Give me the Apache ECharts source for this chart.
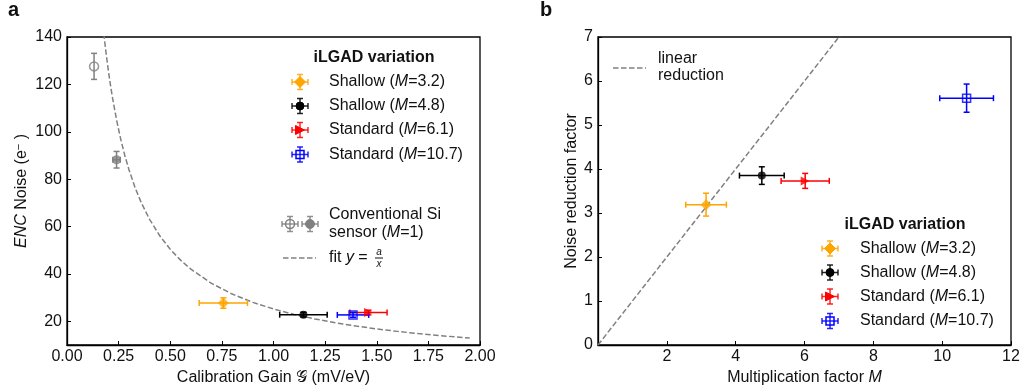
<!DOCTYPE html>
<html>
<head>
<meta charset="utf-8">
<script src="https://cdn.jsdelivr.net/npm/echarts@6.0.0/dist/echarts.min.js"></script>
<style>
  html, body { margin: 0; padding: 0; background: #fff; }
  #chart { width: 1023px; height: 391px; }
</style>
</head>
<body>
<div id="chart"></div>
<script>
// iLGAD variants (shared by both panels)
const variantNames = ['Shallow', 'Shallow', 'Standard', 'Standard'];
const variantM = ['3.2', '4.8', '6.1', '10.7'];
const variantColors = ['#ffa500', '#000000', '#ff0000', '#0000ff'];
const variantSymbols = ['diamond', 'circle', 'triangle', 'rect'];
const variantFilled = [true, true, true, false];
const variantSizes = [11, 8, 9, 8];

// panel a: noise vs calibration gain
const gain = [0.757, 1.145, 1.46, 1.385];
const gainErr = [0.117, 0.115, 0.09, 0.076];
const noise = [27.7, 22.8, 23.7, 22.7];
const noiseErr = [2.2, 1.0, 1.0, 1.0];
// conventional Si sensor (open / filled)
const convGain = [0.131, 0.240];
const convGainErr = [0, 0.018];
const convNoise = [127.6, 88.2];
const convNoiseErr = [5.5, 3.5];
// fit y = a/x
const fitA = 25.2;
const fitX = [0.17, 0.175, 0.18, 0.19, 0.2, 0.21, 0.22, 0.24, 0.26, 0.28, 0.3, 0.33, 0.36, 0.4, 0.45, 0.5,
  0.55, 0.6, 0.7, 0.8, 0.9, 1.0, 1.1, 1.2, 1.3, 1.4, 1.5, 1.6, 1.7, 1.8, 1.95];

// panel b: noise reduction vs multiplication factor
const multM = [3.14, 4.76, 6.02, 10.71];
const multMErr = [0.59, 0.65, 0.70, 0.78];
const reduction = [3.19, 3.85, 3.73, 5.61];
const reductionErr = [0.26, 0.20, 0.17, 0.32];
const linearX = [0, 12];

// tick labels
const gainTicks = [0, 0.25, 0.5, 0.75, 1.0, 1.25, 1.5, 1.75, 2.0];
const noiseTicks = [20, 40, 60, 80, 100, 120, 140];
const mTicks = [2, 4, 6, 8, 10, 12];
const reductionTicks = [0, 1, 2, 3, 4, 5, 6, 7];

const FONT = 'Liberation Sans, Arial, sans-serif';
const FS = 16;
const TXT = '#111';
const GRAY = '#808080';

function seg(x1, y1, x2, y2, color, w) {
  return { type: 'line', shape: { x1: x1, y1: y1, x2: x2, y2: y2 }, style: { stroke: color, lineWidth: w || 1.5 } };
}

// error bars drawn through the axes
function errorBars(color) {
  return function (params, api) {
    const x = api.value(0), y = api.value(1), xe = api.value(2), ye = api.value(3);
    const c = 3;
    const kids = [];
    if (xe > 0) {
      const l = api.coord([x - xe, y]), r = api.coord([x + xe, y]);
      kids.push(seg(l[0], l[1], r[0], r[1], color));
      kids.push(seg(l[0], l[1] - c, l[0], l[1] + c, color));
      kids.push(seg(r[0], r[1] - c, r[0], r[1] + c, color));
    }
    if (ye > 0) {
      const t = api.coord([x, y + ye]), b = api.coord([x, y - ye]);
      kids.push(seg(t[0], t[1], b[0], b[1], color));
      kids.push(seg(t[0] - c, t[1], t[0] + c, t[1], color));
      kids.push(seg(b[0] - c, b[1], b[0] + c, b[1], color));
    }
    return { type: 'group', children: kids, style: { opacity: 0.85 } };
  };
}

function markerSeries(idx, data, color, symbol, size, filled) {
  return {
    type: 'scatter',
    xAxisIndex: idx, yAxisIndex: idx,
    data: data,
    symbol: symbol,
    symbolSize: size,
    symbolRotate: symbol === 'triangle' ? -90 : 0,
    itemStyle: filled
      ? { color: color }
      : { color: 'rgba(0,0,0,0)', borderColor: color, borderWidth: 1.5 },
    z: 5
  };
}

function errSeries(idx, data, color) {
  return {
    type: 'custom',
    xAxisIndex: idx, yAxisIndex: idx,
    renderItem: errorBars(color),
    encode: { x: 0, y: 1 },
    data: data,
    z: 4
  };
}

const series = [];
// fit line
series.push({
  type: 'line', xAxisIndex: 0, yAxisIndex: 0, showSymbol: false,
  data: fitX.map(function (x) { return [x, fitA / x]; }),
  lineStyle: { color: GRAY, width: 1.5, type: [5.5, 2.5] }, z: 2
});
// linear reduction line
series.push({
  type: 'line', xAxisIndex: 1, yAxisIndex: 1, showSymbol: false,
  data: linearX.map(function (x) { return [x, x]; }),
  lineStyle: { color: GRAY, width: 1.5, type: [5.5, 2.5] }, z: 2
});
// conventional sensor points
for (let i = 0; i < convGain.length; i++) {
  series.push(errSeries(0, [[convGain[i], convNoise[i], convGainErr[i], convNoiseErr[i]]], GRAY));
  series.push(markerSeries(0, [[convGain[i], convNoise[i]]], GRAY, 'circle', 9, i === 1));
}
// iLGAD points in both panels
for (let i = 0; i < variantNames.length; i++) {
  const col = variantColors[i];
  series.push(errSeries(0, [[gain[i], noise[i], gainErr[i], noiseErr[i]]], col));
  series.push(markerSeries(0, [[gain[i], noise[i]]], col, variantSymbols[i], variantSizes[i], variantFilled[i]));
  series.push(errSeries(1, [[multM[i], reduction[i], multMErr[i], reductionErr[i]]], col));
  series.push(markerSeries(1, [[multM[i], reduction[i]]], col, variantSymbols[i], variantSizes[i], variantFilled[i]));
}

// legend glyphs (graphic)
function glyphMarker(sym, cx, cy, s, color, filled) {
  const style = filled ? { fill: color, stroke: color, lineWidth: 1 } : { fill: 'none', stroke: color, lineWidth: 1.5 };
  const h = s / 2;
  if (sym === 'circle') return { type: 'circle', shape: { cx: cx, cy: cy, r: h }, style: style, z: 20 };
  if (sym === 'rect') return { type: 'rect', shape: { x: cx - h, y: cy - h, width: s, height: s }, style: style, z: 20 };
  if (sym === 'diamond') return { type: 'polygon', shape: { points: [[cx, cy - h], [cx + h, cy], [cx, cy + h], [cx - h, cy]] }, style: style, z: 20 };
  return { type: 'polygon', shape: { points: [[cx + h, cy], [cx - h, cy - h], [cx - h, cy + h]] }, style: style, z: 20 };
}

function glyph(cx, cy, color, sym, s, filled) {
  const c = 3, dx = 8, dy = 7.5;
  const kids = [
    seg(cx - dx, cy, cx + dx, cy, color), seg(cx - dx, cy - c, cx - dx, cy + c, color), seg(cx + dx, cy - c, cx + dx, cy + c, color),
    seg(cx, cy - dy, cx, cy + dy, color), seg(cx - c, cy - dy, cx + c, cy - dy, color), seg(cx - c, cy + dy, cx + c, cy + dy, color)
  ];
  kids.forEach(function (k) { k.z = 19; k.style.opacity = 0.85; });
  kids.push(glyphMarker(sym, cx, cy, s, color, filled));
  return kids;
}

function label(x, y, text, extra) {
  return {
    type: 'text', x: x, y: y, z: 20,
    style: Object.assign({
      text: text, fontSize: FS, fontFamily: FONT, fill: TXT, align: 'left', verticalAlign: 'middle',
      rich: {
        i: { fontSize: FS, fontFamily: FONT, fill: TXT, fontStyle: 'italic' }
      }
    }, extra || {})
  };
}

const graphic = [];
graphic.push(label(8, 10, 'a', { fontSize: 20, fontWeight: 'bold' }));
graphic.push(label(540, 10, 'b', { fontSize: 20, fontWeight: 'bold' }));

function variantLegend(titleX, titleY, markX, textX, rowY) {
  graphic.push(label(titleX, titleY, 'iLGAD variation', { fontWeight: 'bold', align: 'center' }));
  for (let i = 0; i < variantNames.length; i++) {
    glyph(markX, rowY[i], variantColors[i], variantSymbols[i], variantSizes[i], variantFilled[i]).forEach(function (g) { graphic.push(g); });
    graphic.push(label(textX, rowY[i], variantNames[i] + ' ({i|M}=' + variantM[i] + ')'));
  }
}
variantLegend(374, 58, 300, 329, [82, 106, 130, 154.5]);
variantLegend(905, 225, 830, 860, [248.5, 272.5, 296.5, 321]);

// conventional sensor legend
glyph(290, 224, GRAY, 'circle', 9, false).forEach(function (g) { graphic.push(g); });
glyph(310, 224, GRAY, 'circle', 9, true).forEach(function (g) { graphic.push(g); });
graphic.push(label(329, 215, 'Conventional Si'));
graphic.push(label(329, 233, 'sensor ({i|M}=1)'));
// fit legend
graphic.push({ type: 'line', z: 20, shape: { x1: 283, y1: 258, x2: 316, y2: 258 }, style: { stroke: GRAY, lineWidth: 1.5, lineDash: [5.5, 2.5] } });
graphic.push(label(329, 258, 'fit {i|y} ='));
graphic.push(label(379, 252, 'a', { fontSize: 10, fontStyle: 'italic', align: 'center' }));
graphic.push({ type: 'line', z: 20, shape: { x1: 375, y1: 258, x2: 383, y2: 258 }, style: { stroke: TXT, lineWidth: 1 } });
graphic.push(label(379, 264, 'x', { fontSize: 10, fontStyle: 'italic', align: 'center' }));
// linear reduction legend
graphic.push({ type: 'line', z: 20, shape: { x1: 613, y1: 68, x2: 646, y2: 68 }, style: { stroke: GRAY, lineWidth: 1.5, lineDash: [5.5, 2.5] } });
graphic.push(label(658, 59, 'linear'));
graphic.push(label(658, 75.5, 'reduction'));

function axisCommon() {
  return {
    axisLine: { show: true, lineStyle: { color: '#000', width: 1.3 } },
    axisTick: { show: true, inside: true, length: 4, lineStyle: { color: '#000', width: 1 } },
    axisLabel: { fontSize: FS, fontFamily: FONT, color: TXT },
    splitLine: { show: false },
    nameTextStyle: {
      fontSize: FS, fontFamily: FONT, color: TXT,
      rich: {
        i: { fontSize: FS, fontFamily: FONT, color: TXT, fontStyle: 'italic' },
        sup: { fontSize: 11, fontFamily: FONT, color: TXT, padding: [0, 0, 7, 0] }
      }
    },
    nameLocation: 'middle'
  };
}

const xA = Object.assign(axisCommon(), {
  type: 'value', gridIndex: 0, min: 0, max: 2,
  name: 'Calibration Gain 𝒢 (mV/eV)', nameGap: 20
});
xA.axisLabel = Object.assign(xA.axisLabel, { margin: 4, customValues: gainTicks, formatter: function (v) { return v.toFixed(2); } });
xA.axisTick.customValues = gainTicks;

const yA = Object.assign(axisCommon(), {
  type: 'value', gridIndex: 0, min: 10, max: 140,
  name: '{i|ENC} Noise (e{sup|−} )', nameGap: 36, nameRotate: 90
});
yA.axisLabel = Object.assign(yA.axisLabel, { margin: 5, customValues: noiseTicks });
yA.axisTick.customValues = noiseTicks;

const xB = Object.assign(axisCommon(), {
  type: 'value', gridIndex: 1, min: 0, max: 12,
  name: 'Multiplication factor {i|M}', nameGap: 20
});
xB.axisLabel = Object.assign(xB.axisLabel, { margin: 4, customValues: mTicks });
xB.axisTick.customValues = mTicks;

const yB = Object.assign(axisCommon(), {
  type: 'value', gridIndex: 1, min: 0, max: 7,
  name: 'Noise reduction factor', nameGap: 18, nameRotate: 90
});
yB.axisLabel = Object.assign(yB.axisLabel, { margin: 5, customValues: reductionTicks });
yB.axisTick.customValues = reductionTicks;

const chart = echarts.init(document.getElementById('chart'));
chart.setOption({
  animation: false,
  backgroundColor: '#fff',
  grid: [
    { left: 67, top: 37, width: 413, height: 308, show: true, borderColor: '#000', borderWidth: 1.3, outerBoundsMode: 'none' },
    { left: 598, top: 37, width: 413, height: 308, show: true, borderColor: '#000', borderWidth: 1.3, outerBoundsMode: 'none' }
  ],
  xAxis: [xA, xB],
  yAxis: [yA, yB],
  series: series,
  graphic: graphic
});
</script>
</body>
</html>
